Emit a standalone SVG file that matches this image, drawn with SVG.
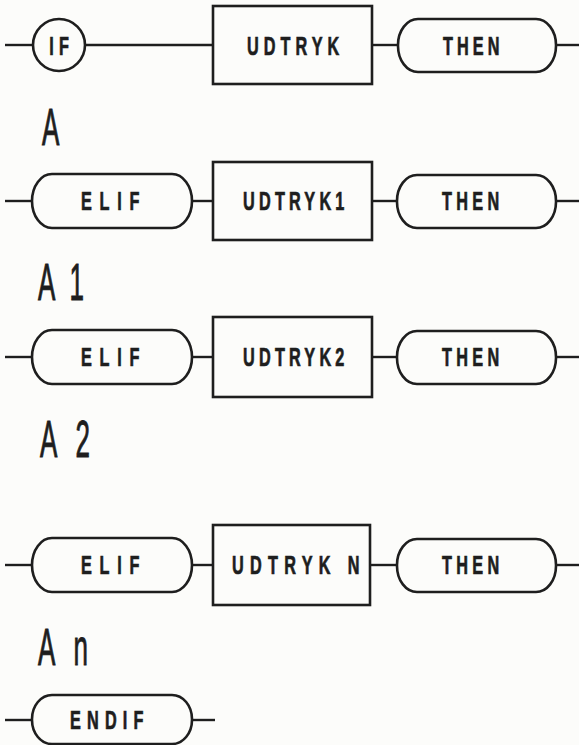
<svg xmlns="http://www.w3.org/2000/svg" width="579" height="745" viewBox="0 0 579 745">
<style>
.shape{fill:none;stroke:#1e1e1e;stroke-width:2.6}
.conn line{stroke:#1e1e1e;stroke-width:2.4}
.kw{font-family:"Liberation Sans",Arial,sans-serif;font-weight:bold;font-size:25px;fill:#1e1e1e;stroke:#1e1e1e;stroke-width:0.7}
.big{font-family:"Liberation Sans",Arial,sans-serif;font-size:52px;fill:#1e1e1e;stroke:#1e1e1e;stroke-width:1}
</style>
<rect x="0" y="0" width="579" height="745" fill="#fcfcfa"/>
<g id="connectors" class="conn">
<line x1="5" y1="45" x2="33" y2="45"/>
<line x1="85" y1="45" x2="213" y2="45"/>
<line x1="372" y1="45" x2="398" y2="45"/>
<line x1="556" y1="45" x2="579" y2="45"/>
<line x1="5" y1="201" x2="32" y2="201"/>
<line x1="192" y1="201" x2="213" y2="201"/>
<line x1="372" y1="201" x2="397" y2="201"/>
<line x1="556" y1="201" x2="579" y2="201"/>
<line x1="5" y1="357" x2="32" y2="357"/>
<line x1="192" y1="357" x2="213" y2="357"/>
<line x1="372" y1="357" x2="397" y2="357"/>
<line x1="556" y1="357" x2="579" y2="357"/>
<line x1="5" y1="565" x2="32" y2="565"/>
<line x1="192" y1="565" x2="213" y2="565"/>
<line x1="370" y1="565" x2="397" y2="565"/>
<line x1="556" y1="565" x2="579" y2="565"/>
<line x1="5" y1="720" x2="32" y2="720"/>
<line x1="192" y1="720" x2="215" y2="720"/>
</g>
<g id="if">
<circle class="shape" cx="59" cy="45" r="26"/>
<text class="kw" transform="translate(59,55) scale(0.65,1)" x="4" text-anchor="middle" letter-spacing="8">IF</text>
</g>
<g id="udtryk">
<rect class="shape" x="213" y="6" width="159" height="78"/>
<text class="kw" transform="translate(247,55) scale(0.65,1)" textLength="142" lengthAdjust="spacing">UDTRYK</text>
</g>
<g id="then1">
<rect class="shape" x="398" y="19" width="158" height="53" rx="20" ry="26"/>
<text class="kw" transform="translate(443,55) scale(0.65,1)" textLength="87" lengthAdjust="spacing">THEN</text>
</g>
<g id="labelA">
<text class="big" transform="translate(42,145) scale(0.5,1)">A</text>
</g>
<g id="elif1">
<rect class="shape" x="32" y="174" width="160" height="54" rx="20" ry="27"/>
<text class="kw" transform="translate(81,210) scale(0.65,1)" textLength="90" lengthAdjust="spacing">ELIF</text>
</g>
<g id="udtryk1">
<rect class="shape" x="213" y="162" width="159" height="78"/>
<text class="kw" transform="translate(243,210) scale(0.65,1)" textLength="156" lengthAdjust="spacing">UDTRYK1</text>
</g>
<g id="then2">
<rect class="shape" x="397" y="175" width="159" height="53" rx="20" ry="26"/>
<text class="kw" transform="translate(442,210) scale(0.65,1)" textLength="88" lengthAdjust="spacing">THEN</text>
</g>
<g id="labelA1">
<text class="big" transform="translate(38,300) scale(0.5,1)" textLength="92" lengthAdjust="spacing">A1</text>
</g>
<g id="elif2">
<rect class="shape" x="32" y="330" width="160" height="54" rx="20" ry="27"/>
<text class="kw" transform="translate(81,366) scale(0.65,1)" textLength="90" lengthAdjust="spacing">ELIF</text>
</g>
<g id="udtryk2">
<rect class="shape" x="213" y="317" width="159" height="80"/>
<text class="kw" transform="translate(243,366) scale(0.65,1)" textLength="156" lengthAdjust="spacing">UDTRYK2</text>
</g>
<g id="then3">
<rect class="shape" x="397" y="331" width="159" height="53" rx="20" ry="26"/>
<text class="kw" transform="translate(442,366) scale(0.65,1)" textLength="88" lengthAdjust="spacing">THEN</text>
</g>
<g id="labelA2">
<text class="big" transform="translate(40,457) scale(0.5,1)" textLength="100" lengthAdjust="spacing">A2</text>
</g>
<g id="elif3">
<rect class="shape" x="32" y="538" width="160" height="54" rx="20" ry="27"/>
<text class="kw" transform="translate(81,574) scale(0.65,1)" textLength="90" lengthAdjust="spacing">ELIF</text>
</g>
<g id="udtrykN">
<rect class="shape" x="213" y="525" width="157" height="80"/>
<text class="kw" transform="translate(232,574) scale(0.65,1)" textLength="196" lengthAdjust="spacing">UDTRYK N</text>
</g>
<g id="then4">
<rect class="shape" x="397" y="539" width="159" height="53" rx="20" ry="26"/>
<text class="kw" transform="translate(442,574) scale(0.65,1)" textLength="88" lengthAdjust="spacing">THEN</text>
</g>
<g id="labelAn">
<text class="big" transform="translate(38,665) scale(0.5,1)" textLength="100" lengthAdjust="spacing">An</text>
</g>
<g id="endif">
<rect class="shape" x="32" y="695" width="160" height="49" rx="20" ry="24"/>
<text class="kw" transform="translate(70,729) scale(0.65,1)" textLength="113" lengthAdjust="spacing">ENDIF</text>
</g>
</svg>
